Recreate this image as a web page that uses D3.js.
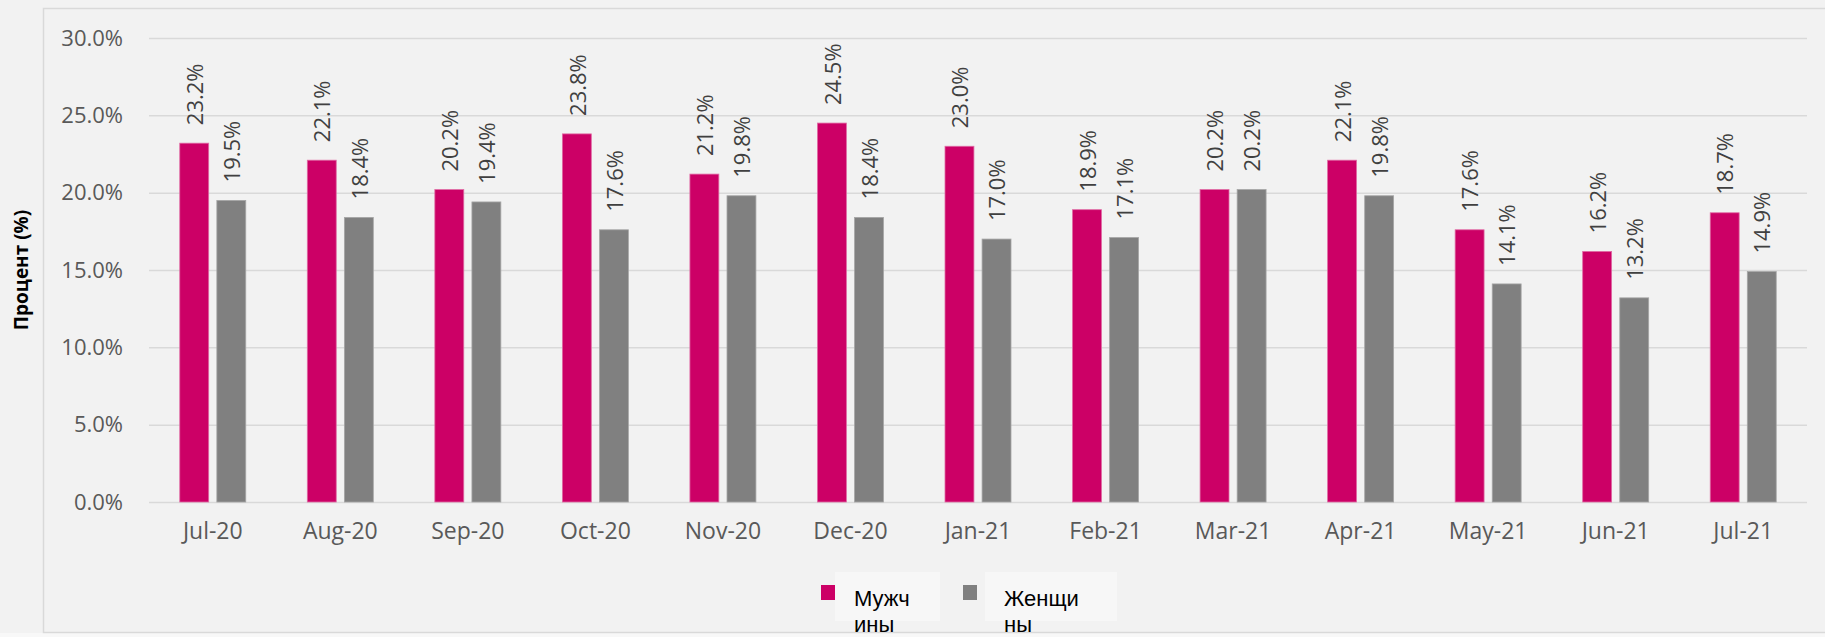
<!DOCTYPE html>
<html>
<head>
<meta charset="utf-8">
<script src="https://cdn.jsdelivr.net/npm/d3@7"></script>
<style>
  html, body { margin: 0; padding: 0; background: #f2f2f2; }
  svg { display: block; }
  text { font-family: "Open Sans", "Noto Sans", sans-serif; }
</style>
</head>
<body>
<div id="chart"></div>
<script>
// Data for the chart
const months = ["Jul-20", "Aug-20", "Sep-20", "Oct-20", "Nov-20", "Dec-20", "Jan-21",
                "Feb-21", "Mar-21", "Apr-21", "May-21", "Jun-21", "Jul-21"];
const seriesNames = ["Мужчины", "Женщины"];
const legendLines = [["Мужч", "ины"], ["Женщи", "ны"]];
const men   = [23.2, 22.1, 20.2, 23.8, 21.2, 24.5, 23.0, 18.9, 20.2, 22.1, 17.6, 16.2, 18.7];
const women = [19.5, 18.4, 19.4, 17.6, 19.8, 18.4, 17.0, 17.1, 20.2, 19.8, 14.1, 13.2, 14.9];
const yTicks = [0, 5, 10, 15, 20, 25, 30];
const colors = ["#cc0066", "#808080"];

const W = 1825, H = 637;
const plot = { left: 149, right: 1807, top: 38, bottom: 502 };

const svg = d3.select("#chart")
    .append("svg")
    .attr("width", W)
    .attr("height", H);

// background + frame
svg.append("rect").attr("x", 0).attr("y", 633).attr("width", W).attr("height", 4).attr("fill", "#f8f8f8");
svg.append("rect")
    .attr("x", 43.5).attr("y", 8.5)
    .attr("width", W).attr("height", 624)
    .attr("fill", "#f2f2f2")
    .attr("stroke", "#d9d9d9")
    .attr("stroke-width", 1.5);

// Scales
const x = d3.scaleBand()
    .domain(months)
    .range([plot.left, plot.right]);

const groupW = 66;
const x1 = d3.scaleBand()
    .domain(seriesNames)
    .range([0, groupW])
    .paddingInner(0.22);

const y = d3.scaleLinear()
    .domain([0, 30])
    .range([plot.bottom, plot.top]);

// Gridlines + y labels
const yAxis = svg.append("g")
    .attr("transform", `translate(${plot.left},0)`)
    .call(d3.axisLeft(y).tickValues(yTicks).tickSize(-(plot.right - plot.left)).tickPadding(26)
        .tickFormat(d => d.toFixed(1) + "%"));
yAxis.select(".domain").remove();
yAxis.selectAll(".tick line").attr("stroke", "#d9d9d9").attr("stroke-width", 1.5);
yAxis.selectAll(".tick text")
    .attr("fill", "#595959")
    .style("font-size", "22px");

// x labels
const xAxis = svg.append("g")
    .attr("transform", `translate(0,${plot.bottom})`)
    .call(d3.axisBottom(x).tickSize(0).tickPadding(21));
xAxis.select(".domain").remove();
xAxis.selectAll(".tick text")
    .attr("fill", "#595959")
    .style("font-size", "23px");

// Y axis title
svg.append("text")
    .attr("transform", `translate(28,${(plot.top + plot.bottom) / 2}) rotate(-90)`)
    .attr("text-anchor", "middle")
    .style("font-size", "19px")
    .style("font-weight", "bold")
    .attr("fill", "#000")
    .text("Процент (%)");

// Bars
const rows = months.map((m, i) => ({ month: m, values: [men[i], women[i]] }));
const off = (x.bandwidth() - groupW) / 2;

const groups = svg.selectAll(".grp")
    .data(rows)
    .enter()
    .append("g")
    .attr("class", "grp")
    .attr("transform", d => `translate(${x(d.month) + off},0)`);

const cells = groups.selectAll(".cell")
    .data(d => d.values.map((v, j) => ({ name: seriesNames[j], v: v, j: j })))
    .enter();

cells.append("rect")
    .attr("x", d => x1(d.name))
    .attr("y", d => y(d.v))
    .attr("width", x1.bandwidth())
    .attr("height", d => y(0) - y(d.v))
    .attr("fill", d => colors[d.j])
    .attr("stroke", d => d.j === 0 ? "#e06aa4" : "#a6a6a6")
    .attr("stroke-width", 0.8);

// Data labels
cells.append("text")
    .attr("transform", d => `translate(${x1(d.name) + x1.bandwidth() / 2 + 1},${y(d.v) - 18}) rotate(-90)`)
    .attr("dy", "0.35em")
    .attr("text-anchor", "start")
    .attr("fill", "#404040")
    .style("font-size", "22px")
    .text(d => d.v.toFixed(1) + "%");

// Legend (label text wraps like the original)
const legend = [
    { sx: 821, bx: 835, bw: 105 },
    { sx: 963, bx: 985, bw: 132 }
];
legend.forEach((l, i) => {
    svg.append("rect")
        .attr("x", l.bx).attr("y", 572)
        .attr("width", l.bw).attr("height", 49)
        .attr("fill", "#f7f7f7");
    svg.append("rect")
        .attr("x", l.sx).attr("y", 585)
        .attr("width", 14).attr("height", 15)
        .attr("fill", colors[i]);
    legendLines[i].forEach((t, k) => {
        svg.append("text")
            .attr("x", l.bx + 19)
            .attr("y", 606 + k * 26)
            .attr("fill", "#000")
            .style("font-family", "'Liberation Sans', Arial, sans-serif")
            .style("font-size", "22px")
            .text(t);
    });
});
</script>
</body>
</html>
